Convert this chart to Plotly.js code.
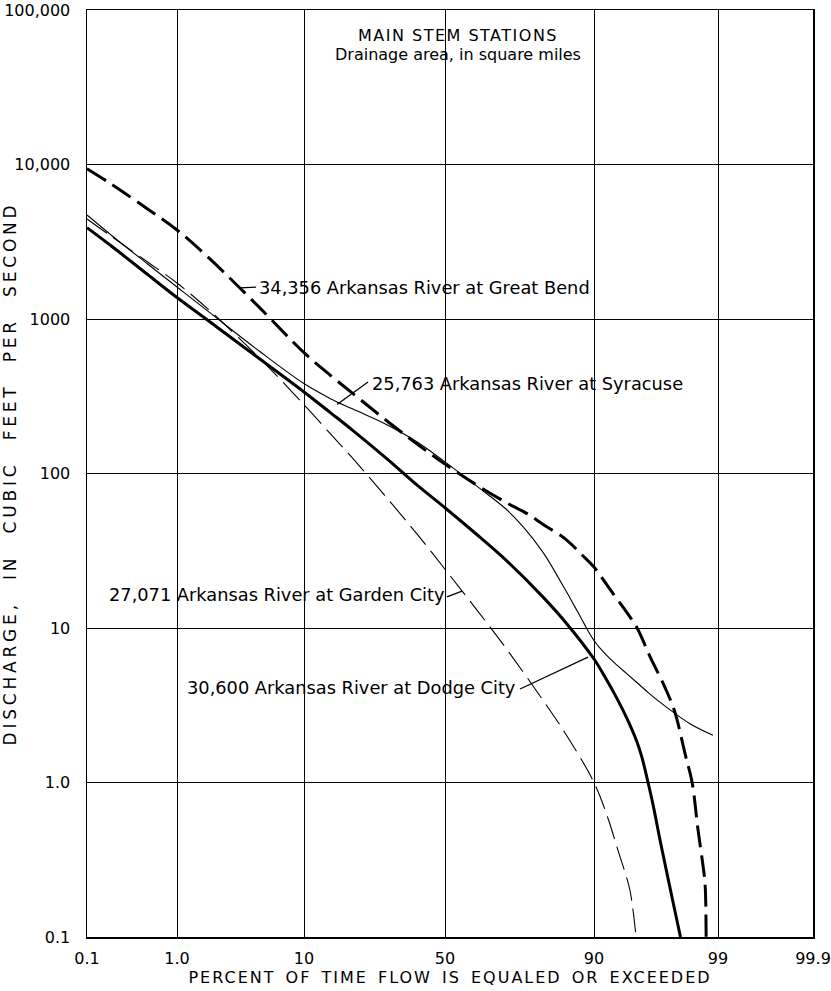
<!DOCTYPE html>
<html>
<head>
<meta charset="utf-8">
<script src="https://cdn.plot.ly/plotly-3.0.1.min.js"></script>
<style>
html,body{margin:0;padding:0;background:#fff}
#chart{width:831px;height:991px}
#chart .xtitle{letter-spacing:2px;word-spacing:3px}
#chart .ytitle{letter-spacing:3.8px;word-spacing:12px}
#chart .gtitle{letter-spacing:1.5px}
</style>
</head>
<body>
<div id="chart"></div>
<script>
// ---- tick labels ----
const PCT_TICKS = [0.1, 1, 10, 50, 90, 99, 99.9];
const PCT_TICK_TEXT = ['0.1', '1.0', '10', '50', '90', '99', '99.9'];
const Q_TICKS = [0.1, 1, 10, 100, 1000, 10000, 100000];
const Q_TICK_TEXT = ['0.1', '1.0', '10', '100', '1000', '10,000', '100,000'];

// ---- series: percent of time flow is equaled or exceeded, discharge (cfs) ----
const greatBendPct = [0.1, 0.2, 0.5, 1, 2, 5, 10, 15, 20, 30, 40, 50, 60, 70, 76, 80, 85, 88, 90, 92, 94, 95, 96, 97, 97.5, 98, 98.25, 98.45, 98.6, 98.67, 98.7];
const greatBendQ   = [9400, 7420, 5150, 3770, 2440, 1180, 605, 429, 331, 218, 155, 115, 86, 65, 55, 47, 37.6, 29.9, 24.8, 18.3, 12.7, 10, 6.6, 4.1, 2.9, 1.48, 1.0, 0.5, 0.3, 0.22, 0.1];

const syracusePct = [0.1, 0.2, 0.5, 1, 2, 5, 10, 15, 20, 30, 40, 50, 60, 70, 75, 80, 85, 86.8, 88, 89.06, 90, 90.86, 92, 93, 94, 95, 96, 97, 98.17, 98.88];
const syracuseQ   = [4710, 3460, 2270, 1610, 1095, 616, 382, 304, 262, 206, 160, 119, 85, 58.9, 45, 31, 17.6, 13.7, 11.45, 9.6, 8.3, 7.4, 6.45, 5.75, 5.08, 4.42, 3.75, 3.12, 2.40, 2.02];

const gardenCityPct = [0.1, 0.2, 0.5, 1, 2, 5, 10, 15, 20, 30, 40, 50, 60, 70, 80, 85, 90, 92, 93, 94, 94.35, 94.63, 94.91];
const gardenCityQ   = [4440, 3400, 2340, 1710, 1127, 555, 279, 179, 126, 69, 40.5, 24, 13.7, 7.4, 3.42, 2.07, 1.0, 0.57, 0.38, 0.245, 0.2, 0.15, 0.1];

const dodgeCityPct = [0.1, 0.2, 0.5, 1, 2, 5, 10, 15, 20, 30, 40, 50, 60, 70, 80, 85, 90, 91.53, 93.0, 94.06, 94.99, 95.41, 95.88, 96.24, 96.69, 97.11, 97.47, 97.78];
const dodgeCityQ   = [3900, 2945, 1940, 1377, 956, 551, 337, 246, 191, 124, 84, 60, 41.5, 27.5, 15.9, 10.9, 6.3, 4.82, 3.49, 2.59, 1.83, 1.45, 1.0, 0.717, 0.428, 0.256, 0.158, 0.1];

// ---- probability-paper scale (printed spacing of the tick lines) ----
const SCALE_POS = [0, 90, 217, 358, 507, 631, 726];

function probit(p) {
  const a = [-3.969683028665376e+01, 2.209460984245205e+02, -2.759285104469687e+02, 1.383577518672690e+02, -3.066479806614716e+01, 2.506628277459239e+00];
  const b = [-5.447609879822406e+01, 1.615858368580409e+02, -1.556989798598866e+02, 6.680131188771972e+01, -1.328068155288572e+01];
  const c = [-7.784894002430293e-03, -3.223964580411365e-01, -2.400758277161838e+00, -2.549732539343734e+00, 4.374664141464968e+00, 2.938163982698783e+00];
  const d = [7.784695709041462e-03, 3.224671290700398e-01, 2.445134137142996e+00, 3.754408661907416e+00];
  const plow = 0.02425, phigh = 1 - plow;
  let q, r;
  if (p < plow) {
    q = Math.sqrt(-2 * Math.log(p));
    return (((((c[0]*q+c[1])*q+c[2])*q+c[3])*q+c[4])*q+c[5]) / ((((d[0]*q+d[1])*q+d[2])*q+d[3])*q+1);
  } else if (p <= phigh) {
    q = p - 0.5; r = q*q;
    return (((((a[0]*r+a[1])*r+a[2])*r+a[3])*r+a[4])*r+a[5])*q / (((((b[0]*r+b[1])*r+b[2])*r+b[3])*r+b[4])*r+1);
  } else {
    q = Math.sqrt(-2 * Math.log(1 - p));
    return -(((((c[0]*q+c[1])*q+c[2])*q+c[3])*q+c[4])*q+c[5]) / ((((d[0]*q+d[1])*q+d[2])*q+d[3])*q+1);
  }
}
const TICK_Z = PCT_TICKS.map(p => probit(p / 100));
function xpos(pct) {
  const z = probit(pct / 100);
  let i = 0;
  while (i < TICK_Z.length - 2 && z > TICK_Z[i + 1]) i++;
  return SCALE_POS[i] + (z - TICK_Z[i]) / (TICK_Z[i + 1] - TICK_Z[i]) * (SCALE_POS[i + 1] - SCALE_POS[i]);
}

const FONT = 'DejaVu Sans, Verdana, sans-serif';

function curve(pct, q, width, dash) {
  return {
    x: pct.map(xpos), y: q, type: 'scatter', mode: 'lines',
    line: {color: '#000', width: width, dash: dash, shape: 'spline', smoothing: 1},
    hoverinfo: 'skip', showlegend: false
  };
}
function leader(x0, y0, x1, y1) {
  return {x: [x0, x1], y: [y0, y1], type: 'scatter', mode: 'lines',
    line: {color: '#000', width: 1.3}, hoverinfo: 'skip', showlegend: false};
}

const traces = [
  curve(greatBendPct, greatBendQ, 3, '22px,8px'),
  curve(syracusePct, syracuseQ, 1.1, 'solid'),
  curve(gardenCityPct, gardenCityQ, 1.1, '24px,8px'),
  curve(dodgeCityPct, dodgeCityQ, 3, 'solid'),
  leader(153, 1589, 169, 1610),
  leader(250, 280, 281, 391),
  leader(360, 15.9, 375, 17.3),
  leader(433, 4.03, 501, 6.48)
];

function label(text, x, q, anchor) {
  return {text: text, x: x, y: Math.log10(q), xref: 'x', yref: 'y', showarrow: false,
    xanchor: anchor, yanchor: 'middle', font: {family: FONT, size: 17.8, color: '#000'}};
}

const layout = {
  width: 831, height: 991,
  margin: {l: 87, r: 18, t: 10, b: 54, pad: 0},
  paper_bgcolor: '#fff', plot_bgcolor: '#fff',
  font: {family: FONT, color: '#000'},
  title: {text: 'MAIN STEM STATIONS', font: {family: FONT, size: 16, color: '#000'},
          x: 458 / 831, y: 1 - 35 / 991, xanchor: 'center', yanchor: 'middle', xref: 'container', yref: 'container'},
  xaxis: {
    range: [0, 726], tickvals: PCT_TICKS.map(xpos), ticktext: PCT_TICK_TEXT,
    showgrid: true, gridcolor: '#000', gridwidth: 1,
    showline: true, linecolor: '#000', linewidth: 1.5, mirror: true, zeroline: false,
    ticks: '', ticklabelstandoff: 6, automargin: false,
    tickfont: {family: FONT, size: 16, color: '#000'},
    title: {text: 'PERCENT OF TIME FLOW IS EQUALED OR EXCEEDED', font: {family: FONT, size: 16, color: '#000'}, standoff: 4}
  },
  yaxis: {
    type: 'log', range: [-1, 5], tickvals: Q_TICKS, ticktext: Q_TICK_TEXT,
    showgrid: true, gridcolor: '#000', gridwidth: 1,
    showline: true, linecolor: '#000', linewidth: 1.5, mirror: true, zeroline: false,
    ticks: '', ticklabelstandoff: 12, automargin: false,
    tickfont: {family: FONT, size: 16, color: '#000'},
    title: {text: 'DISCHARGE, IN CUBIC FEET PER SECOND', font: {family: FONT, size: 17, color: '#000'}, standoff: 0}
  },
  annotations: [
    {text: 'Drainage area, in square miles', xref: 'paper', yref: 'paper',
     x: (458 - 87) / 726, y: 1 - (55 - 10) / 927, xanchor: 'center', yanchor: 'middle', showarrow: false,
     font: {family: FONT, size: 16, color: '#000'}},
    label('34,356 Arkansas River at Great Bend', 170, 1611, 'left'),
    label('25,763 Arkansas River at Syracuse', 283, 385, 'left'),
    label('27,071 Arkansas River at Garden City', 359, 16.4, 'right'),
    label('30,600 Arkansas River at Dodge City', 430, 4.09, 'right')
  ]
};

Plotly.newPlot('chart', traces, layout, {displayModeBar: false, staticPlot: true});
</script>
</body>
</html>
